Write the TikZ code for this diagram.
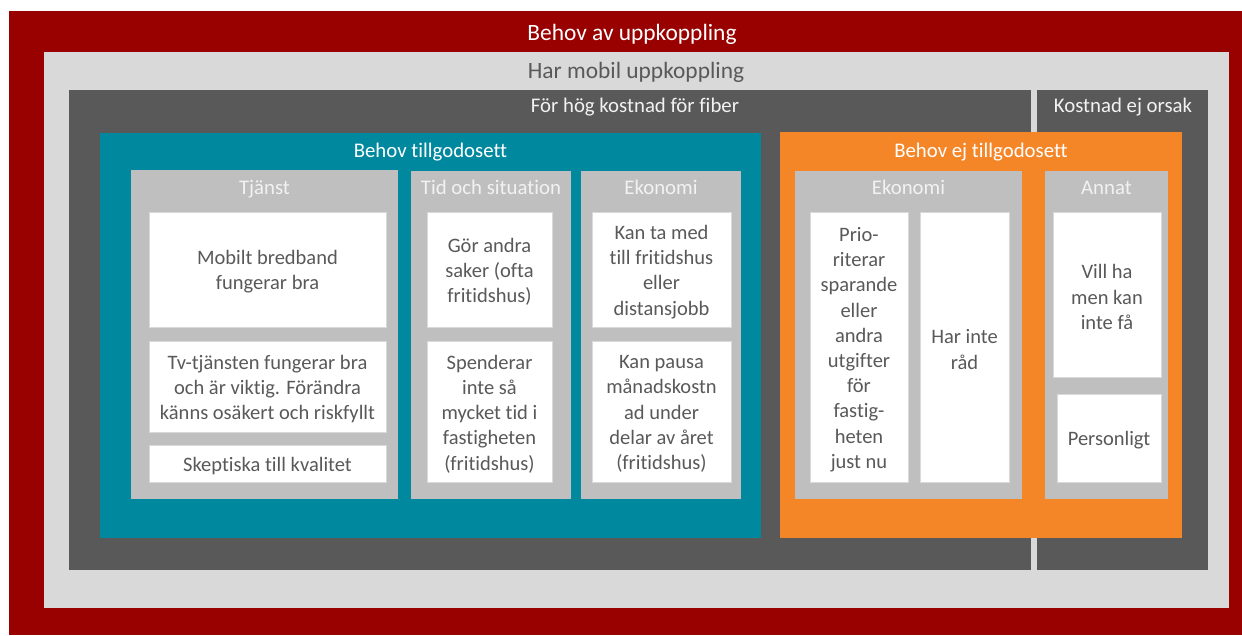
\documentclass[tikz,border=0pt]{standalone}
\usepackage{fontspec}
\setmainfont{Carlito}[Ligatures={NoCommon}]
\usepackage{tikz}
\usetikzlibrary{positioning}
\definecolor{darkred}{RGB}{153, 0, 0}
\definecolor{lightgrey}{RGB}{217, 217, 217}
\definecolor{darkgrey}{RGB}{89, 89, 89}
\definecolor{midgrey}{RGB}{191, 191, 191}
\definecolor{petrol}{RGB}{0, 137, 158}
\definecolor{tangerine}{RGB}{245, 134, 40}
\definecolor{offwhite}{RGB}{242, 242, 242}
\tikzset{
    title/.style={font=\fontsize{23.4}{28}\selectfont, inner sep=0pt, anchor=base},
    heading/.style={font=\fontsize{20.8}{25}\selectfont, inner sep=0pt, anchor=base},
    cell/.style={font=\fontsize{20.5}{25.2}\selectfont, text=darkgrey, align=center, inner sep=0pt, yshift=-2.5pt},
    card/.style={fill=white, draw=lightgrey, line width=0.6pt}
}

\begin{document}
\begin{tikzpicture}[x=1pt, y=-1pt]
            \useasboundingbox                                   (0, 0)      rectangle (1242, 635);
            \fill[darkred]                                      (9, 11)     rectangle (1242, 635);
            \fill[lightgrey]                                    (44, 52)    rectangle (1229, 608);
            \fill[darkgrey]                                     (69, 90)    rectangle (1031, 570);
            \fill[darkgrey]                                     (1037, 90)  rectangle (1208, 570);
            \fill[petrol]                                       (100, 133)  rectangle (761, 538);
            \fill[tangerine]                                    (780, 132)  rectangle (1182, 538);
            \fill[midgrey]                                      (131, 170)  rectangle (398, 499);
            \fill[midgrey]                                      (411, 171)  rectangle (571, 499);
            \fill[midgrey]                                      (581, 171)  rectangle (741, 499);
            \fill[midgrey]                                      (795, 171)  rectangle (1022, 499);
            \fill[midgrey]                                      (1045, 171) rectangle (1168, 499);
            \filldraw[card]                                     (149, 212)  rectangle (386, 327);
            \filldraw[card]                                     (149, 341)  rectangle (386, 432);
            \filldraw[card]                                     (149, 445)  rectangle (386, 482);
            \filldraw[card]                                     (427, 212)  rectangle (552, 327);
            \filldraw[card]                                     (427, 341)  rectangle (552, 482);
            \filldraw[card]                                     (592, 212)  rectangle (731, 327);
            \filldraw[card]                                     (592, 341)  rectangle (731, 482);
            \filldraw[card]                                     (810, 212)  rectangle (908, 482);
            \filldraw[card]                                     (920, 212)  rectangle (1009, 482);
            \filldraw[card]                                     (1053, 212) rectangle (1161, 377);
            \filldraw[card]                                     (1057, 394) rectangle (1161, 482);

            \node[title, text=white]         (behov)      at (632, 40)    {Behov av uppkoppling};
            \node[title, text=darkgrey]      (mobil)      at (636, 78)    {Har mobil uppkoppling};
            \node[heading, text=offwhite]    (kostnad)    at (635, 112)   {För hög kostnad för fiber};
            \node[heading, text=offwhite]    (ejorsak)    at (1123, 112)  {Kostnad ej orsak};
            \node[heading, text=white]       (uppfyllt)   at (430.5, 157) {Behov tillgodosett};
            \node[heading, text=white]       (ejuppfyllt) at (981, 157)   {Behov ej tillgodosett};
            \node[heading, text=offwhite]    (tjanst)     at (264.5, 194) {Tjänst};
            \node[heading, text=offwhite]    (tid)        at (491, 194)   {Tid och situation};
            \node[heading, text=offwhite]    (ekonomiA)   at (661, 194)   {Ekonomi};
            \node[heading, text=offwhite]    (ekonomiB)   at (908.5, 194) {Ekonomi};
            \node[heading, text=offwhite]    (annat)      at (1106.5, 194){Annat};

            \node[cell] (bredband)  at (267.5, 269.5) {Mobilt bredband\\fungerar bra};
            \node[cell] (tvtjanst)  at (267.5, 386.5) {Tv-tjänsten fungerar bra\\och är viktig. Förändra\\känns osäkert och riskfyllt};
            \node[cell] (skeptisk)  at (267.5, 463.5) {Skeptiska till kvalitet};
            \node[cell] (andra)     at (489.5, 269.5) {Gör andra\\saker (ofta\\fritidshus)};
            \node[cell] (spenderar) at (489.5, 411.5) {Spenderar\\inte så\\mycket tid i\\fastigheten\\(fritidshus)};
            \node[cell] (tamed)     at (661.5, 269.5) {Kan ta med\\till fritidshus\\eller\\distansjobb};
            \node[cell] (pausa)     at (661.5, 411.5) {Kan pausa\\månadskostn\\ad under\\delar av året\\(fritidshus)};
            \node[cell] (prio)      at (859, 347)     {Prio-\\riterar\\sparande\\eller\\andra\\utgifter\\för\\fastig-\\heten\\just nu};
            \node[cell] (rad)       at (964.5, 347)   {Har inte\\råd};
            \node[cell] (villha)    at (1107, 294.5)  {Vill ha\\men kan\\inte få};
            \node[cell] (personligt) at (1109, 438)   {Personligt};
\end{tikzpicture}
\end{document}
